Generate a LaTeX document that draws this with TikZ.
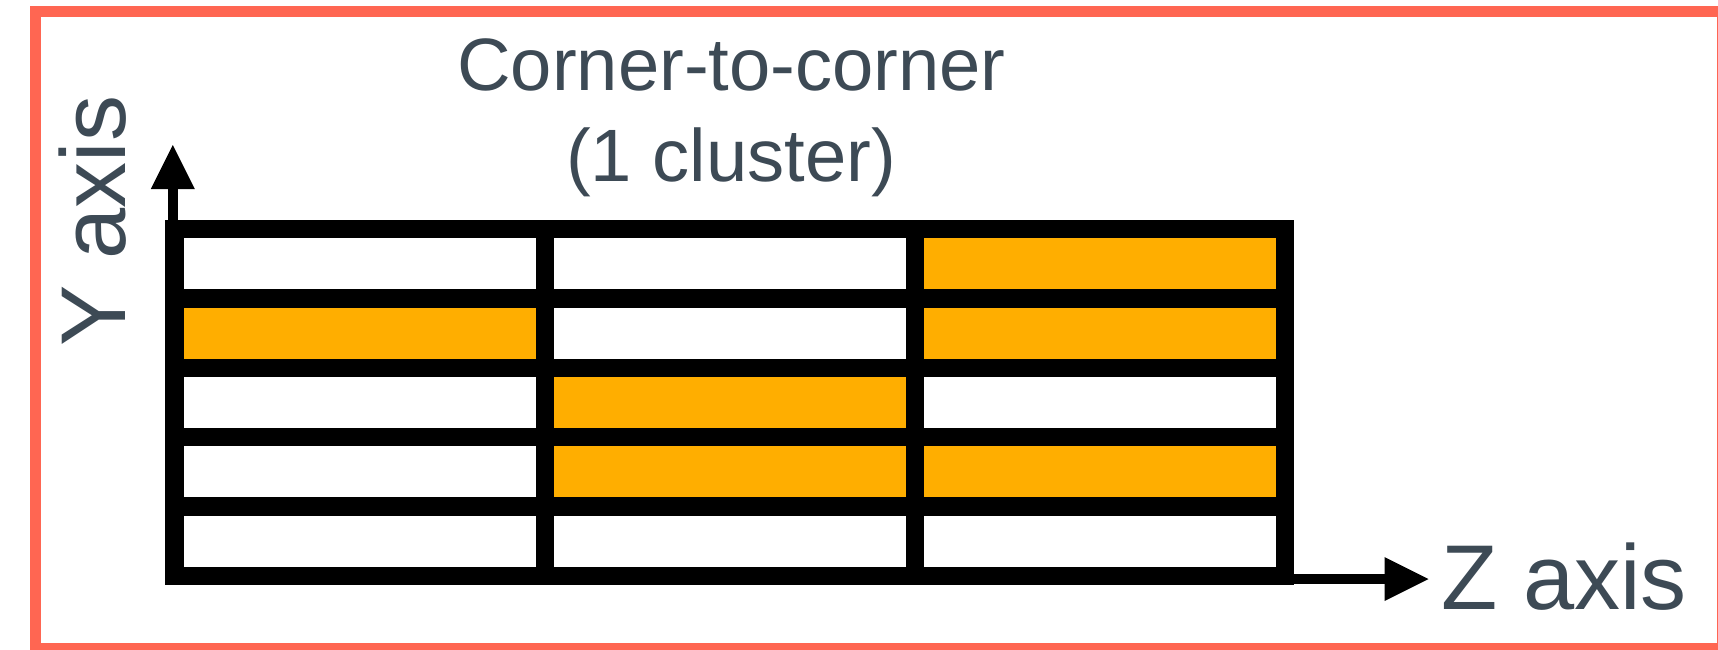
\documentclass[tikz,border=0pt]{standalone}
\usepackage{fontspec}
\setmainfont{Liberation Sans}
\usetikzlibrary{arrows.meta}
\definecolor{framered}{HTML}{FF6652}
\definecolor{ink}{HTML}{3D4A55}
\definecolor{cellorange}{HTML}{FFAE00}
\begin{document}
\begin{tikzpicture}[x=0.5pt,y=-0.5pt,
  gridline/.style={line width=9.25pt, draw=black},
  hot/.style={fill=cellorange},
  axisarrow/.style={line width=5pt, draw=black, -{Triangle[length=22pt,width=22pt,line width=0pt]}},
  titletext/.style={text=ink, inner sep=0pt, font=\fontsize{37.1}{45.5}\selectfont},
  axistext/.style={text=ink, inner sep=0pt, font=\fontsize{46}{55}\selectfont}]
\useasboundingbox (0,0) rectangle (1718,649);
\clip (0,0) rectangle (1718,649);
\fill[white] (0,0) rectangle (1718,649);
% frame
\draw[framered, line width=5.35pt] (35.3,11.3) rectangle (1722.5,648);
% highlighted cells
\fill[hot] (915,229) rectangle (1285,298.4);
\fill[hot] (174.5,298.4) rectangle (545,367.8);
\fill[hot] (915,298.4) rectangle (1285,367.8);
\fill[hot] (545,367.8) rectangle (915,437.2);
\fill[hot] (545,437.2) rectangle (915,506.6);
\fill[hot] (915,437.2) rectangle (1285,506.6);
% grid
\draw[gridline, line join=miter] (174.5,229) rectangle (1285,576);
\foreach \yy in {298.4,367.8,437.2,506.6}
  \draw[gridline, line cap=butt] (174.5,\yy) -- (1285,\yy);
\foreach \xx in {545,915}
  \draw[gridline, line cap=butt] (\xx,229) -- (\xx,576);
% axes
\coordinate (ybase) at (172.8,219.75);
\coordinate (ytip) at (172.8,145);
\coordinate (zbase) at (1294.25,579);
\coordinate (ztip) at (1428.5,579);
\draw[axisarrow] (ybase) -- (ytip);
\draw[axisarrow] (zbase) -- (ztip);
% texts
\node[titletext, anchor=base] (title1) at (731.5,90.7) {Corner-to-corner};
\node[titletext, anchor=base] (title2) at (731,181.7) {(1 cluster)};
\node[axistext, anchor=base west] (zlabel) at (1441,609.3) {Z axis};
\node[axistext, anchor=base, rotate=90] (ylabel) at (125.5,221) {Y axis};
\end{tikzpicture}
\end{document}
